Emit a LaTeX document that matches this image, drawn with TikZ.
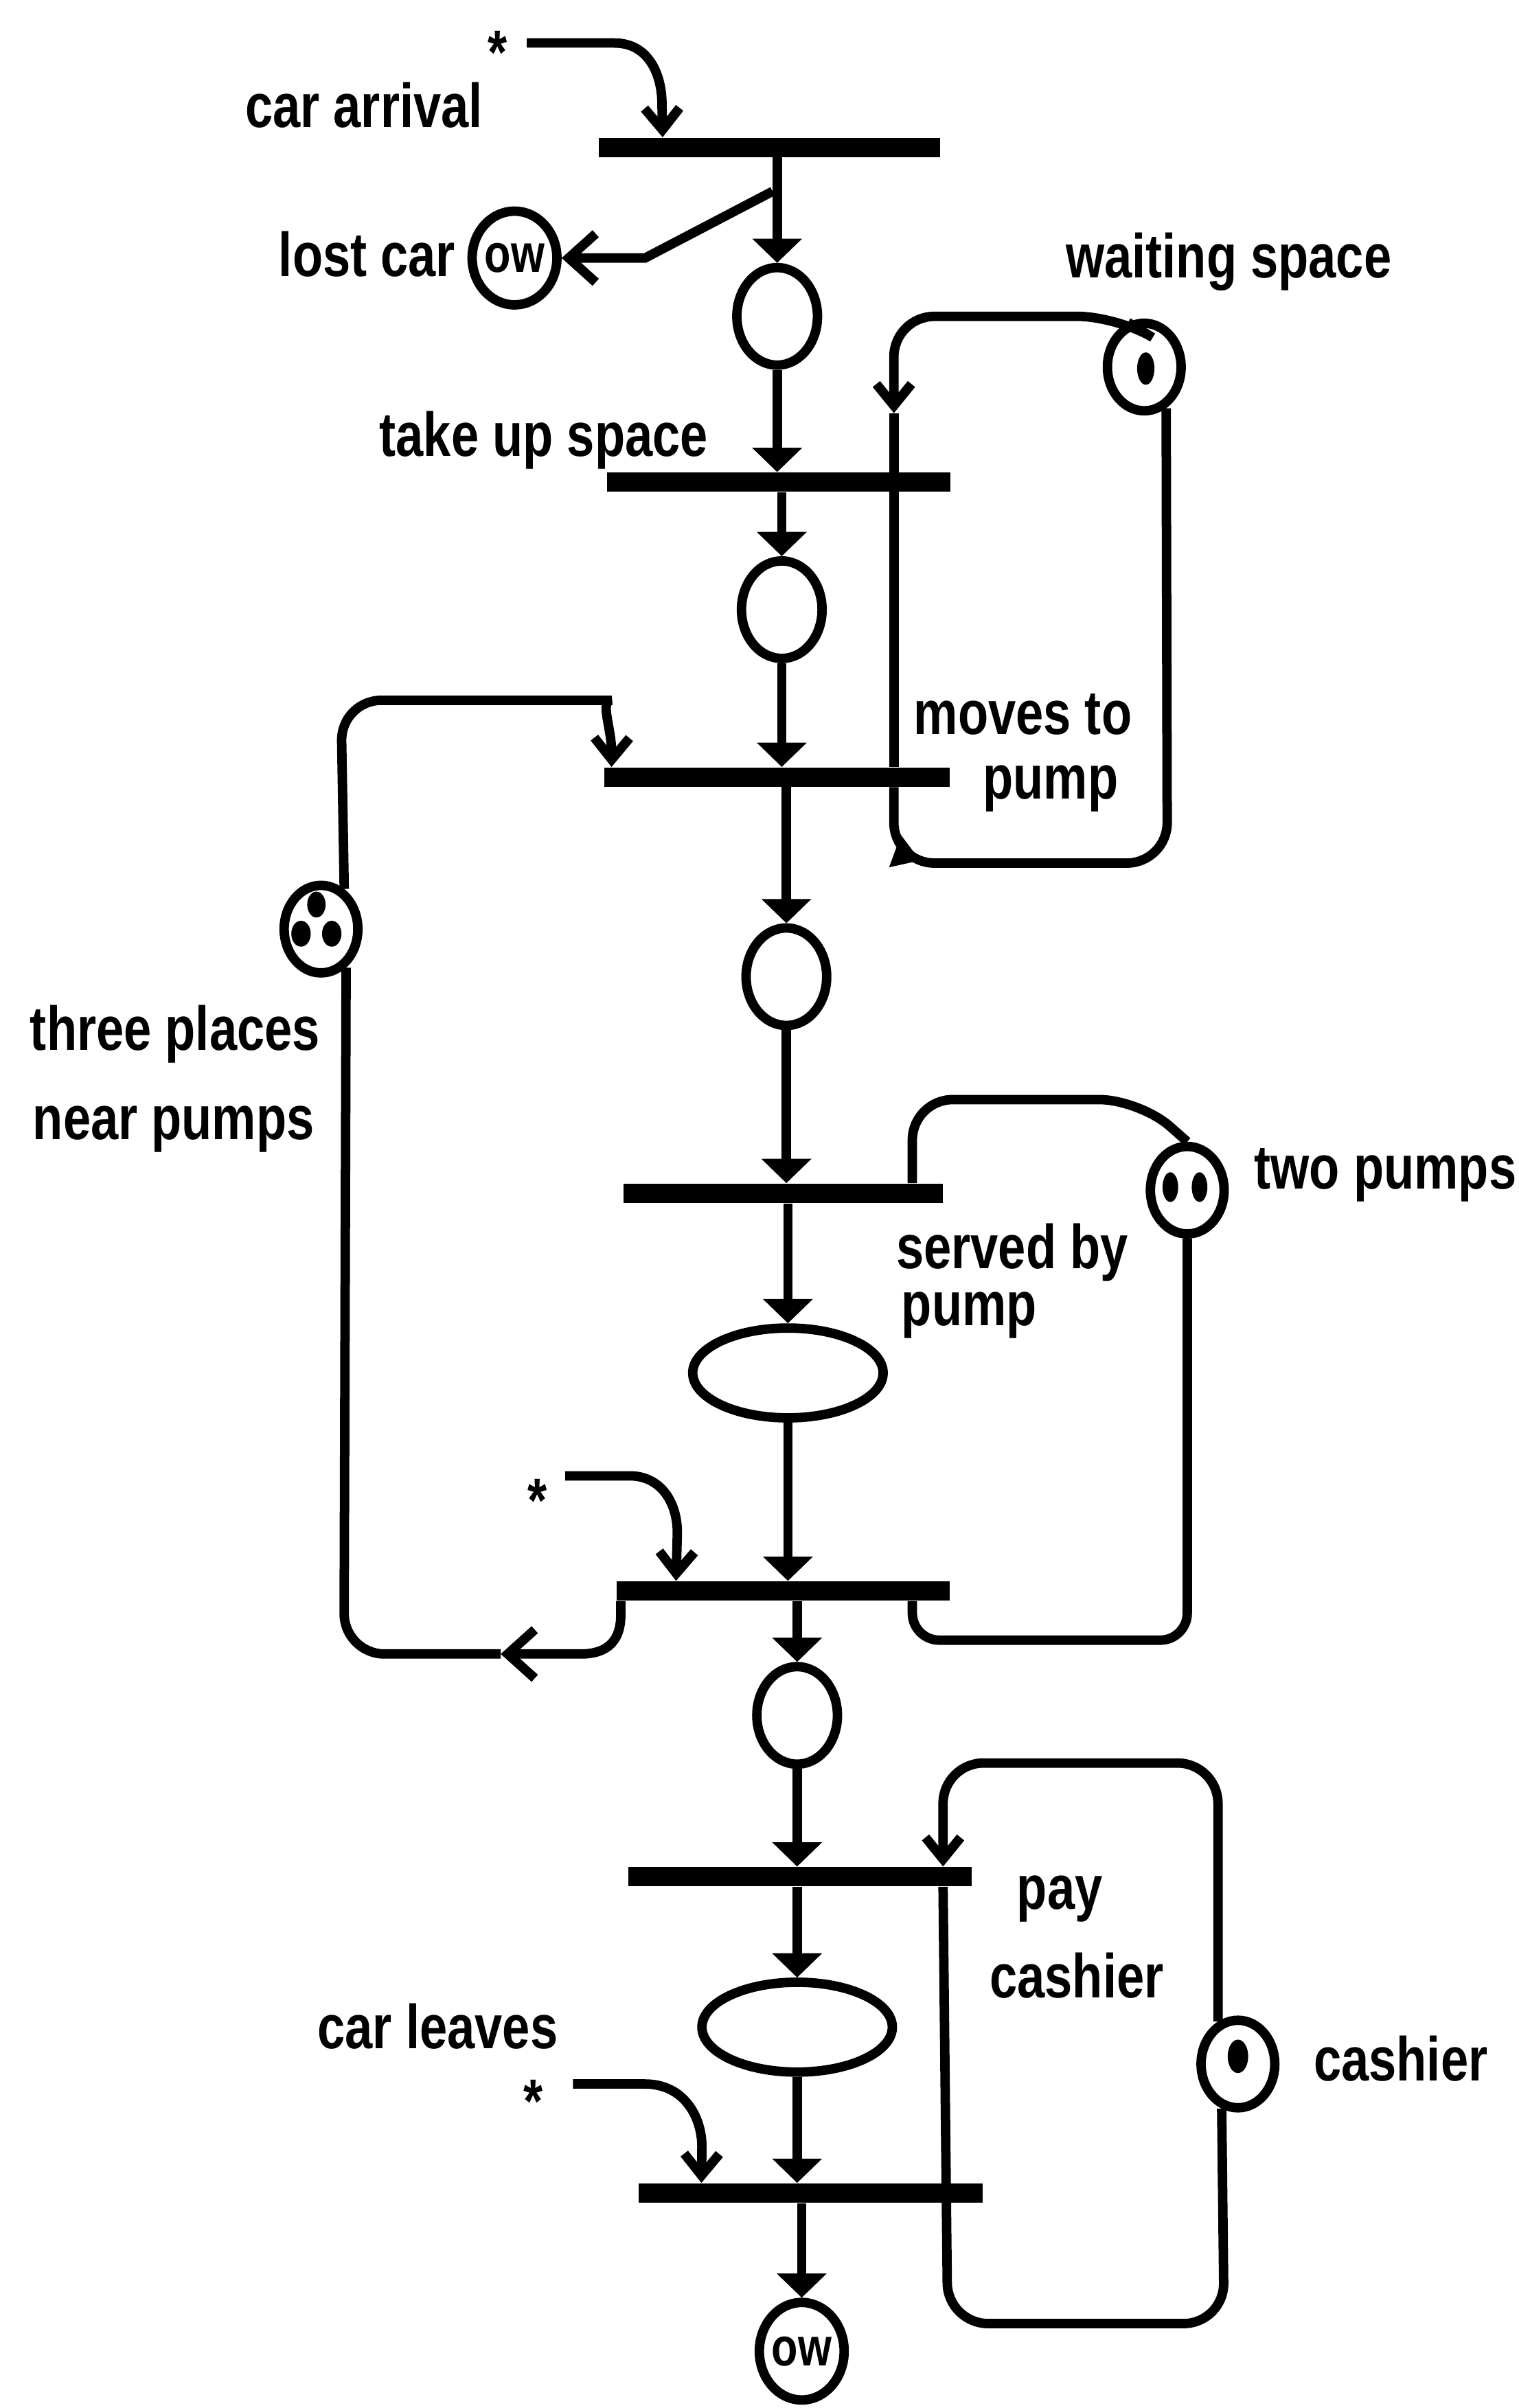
\documentclass[tikz,border=0pt]{standalone}
\usepackage{fontspec}
\setmainfont{Liberation Sans}[FakeStretch=0.8]
\usetikzlibrary{arrows.meta, shapes.geometric, calc, decorations.markings}

\newcommand{\netfont}{\fontsize{23}{27}\selectfont\bfseries}

\tikzset{
  wire/.style={line width=3.5pt},
  flow/.style={wire, -{Triangle[width=18pt,length=9pt]}},
  grab/.style={wire, -{Straight Barb[length=8pt,width=13pt]}},
  lose/.style={wire, -{Straight Barb[length=10pt,width=18pt]}},
  place/.style={ellipse, draw, line width=3.5pt, inner sep=0pt, minimum width=1.05cm, minimum height=1.27cm, font=\netfont},
  resource/.style={place, minimum width=0.96cm, minimum height=1.14cm},
  oval/.style={place, minimum width=2.48cm, minimum height=1.17cm},
  trans/.style={rectangle, fill, inner sep=0pt, minimum height=0.25cm, minimum width=4.47cm},
  lbl/.style={font=\netfont, inner sep=0pt, anchor=base},
  backmark/.style={postaction={decorate}, decoration={markings, mark=at position #1 with {\arrow{Triangle[width=12pt,length=10pt]}}}},
}

\begin{document}
\begin{tikzpicture}[x=0.02cm, y=-0.02cm]
  \useasboundingbox (0,0) rectangle (989,1568);
  % transitions
  \node[trans, minimum width=4.45cm] (T1) at (501,96) {};
  \node[trans] (T2) at (507,314) {};
  \node[trans, minimum width=4.50cm] (T3) at (506,506) {};
  \node[trans, minimum width=4.16cm] (T4) at (510,777) {};
  \node[trans, minimum width=4.34cm] (T5) at (510,1036) {};
  \node[trans] (T6) at (521,1222) {};
  \node[trans, minimum width=4.48cm] (T7) at (528,1428) {};
  % places on the main line
  \node[place] (P1) at (506,206) {};
  \node[place] (P2) at (509,397) {};
  \node[place] (P3) at (512,636) {};
  \node[oval] (P4) at (513,894) {};
  \node[place] (P5) at (519,1117) {};
  \node[oval] (P6) at (519,1320) {};
  \node[place, minimum width=0.96cm, minimum height=1.22cm, font=\fontsize{20}{22}\selectfont\bfseries] (ow1) at (335,168) {ow};
  \node[place, font=\fontsize{20}{22}\selectfont\bfseries] (ow2) at (522,1531) {ow};
  % resource places
  \node[resource] (W) at (745,239) {};
  \node[resource] (TP) at (209,605) {};
  \node[resource] (PU) at (773,775) {};
  \node[resource] (CA) at (806,1344) {};
  % tokens
  \fill ($(W)+(1,1)$) ellipse (3.2pt and 6pt);
  \fill ($(TP)+(-3,-16)$) ellipse (3.4pt and 4.8pt);
  \fill ($(TP)+(-13,3)$) ellipse (3.6pt and 4.8pt);
  \fill ($(TP)+(7,3)$) ellipse (3.6pt and 4.8pt);
  \fill ($(PU)+(-11,-2)$) ellipse (2.9pt and 5.5pt);
  \fill ($(PU)+(8,-2)$) ellipse (2.9pt and 5.5pt);
  \fill ($(CA)+(0,-5)$) ellipse (3.8pt and 6.2pt);
  % labels
  \node[lbl] (arrival) at (237,83) {car arrival};
  \node[lbl] (lost) at (239,180) {lost car};
  \node[lbl] (waiting) at (800,181) {waiting space};
  \node[lbl] (takeup) at (354,297) {take up space};
  \node[lbl] (moves) at (666,478) {moves to};
  \node[lbl] (movespump) at (684,520) {pump};
  \node[lbl] (served) at (659,826) {served by};
  \node[lbl] (servedpump) at (631,863) {pump};
  \node[lbl] (twopumps) at (902,774) {two pumps};
  \node[lbl] (three) at (114,684) {three places};
  \node[lbl] (near) at (113,742) {near pumps};
  \node[lbl] (pay) at (690,1243) {pay};
  \node[lbl] (paycashier) at (701,1301) {cashier};
  \node[lbl] (leaves) at (285,1334) {car leaves};
  \node[lbl] (cashier) at (912,1355) {cashier};
  \node[lbl] (star1) at (324,48) {*};
  \node[lbl] (star2) at (350,991) {*};
  \node[lbl] (star3) at (347,1382) {*};
  % helper coordinates
  \coordinate (split) at ($(T1.south -| P1.north)+(-3,22)$);
  \coordinate (wsx) at (582,0);
  \coordinate (wsA) at (582,269);
  \coordinate (pux) at (594,0);
  \coordinate (cax) at (614,0);
  \coordinate (tpB) at (326,1077);
  % main line
  \draw[flow] (T1.south -| P1.north) -- (P1.north);
  \draw[flow] (P1.south) -- (P1.south |- T2.north);
  \draw[flow] (T2.south -| P2.north) -- (P2.north);
  \draw[flow] (P2.south) -- (P2.south |- T3.north);
  \draw[flow] (T3.south -| P3.north) -- (P3.north);
  \draw[flow] (P3.south) -- (P3.south |- T4.north);
  \draw[flow] (T4.south -| P4.north) -- (P4.north);
  \draw[flow] (P4.south) -- (P4.south |- T5.north);
  \draw[flow] (T5.south -| P5.north) -- (P5.north);
  \draw[flow] (P5.south) -- (P5.south |- T6.north);
  \draw[flow] (T6.south -| P6.north) -- (P6.north);
  \draw[flow] (P6.south) -- (P6.south |- T7.north);
  \draw[flow] (T7.south -| ow2.north) -- (ow2.north);
  % lost car
  \draw[lose] (split) -- (420,168) -- (ow1.east);
  % sources
  \draw[grab] ($(star1.base)+(19,-20)$) -- (400,28) .. controls (422,28) and (431,48) .. (431,68) -- ($(T1.north west)+(42,0)$);
  \draw[grab] ($(star2.base)+(18,-30)$) -- (410,961) .. controls (430,961) and (441,978) .. (441,998) -- ($(T5.north west)+(39,0)$);
  \draw[grab] ($(star3.base)+(26,-25)$) -- (420,1357) .. controls (445,1357) and (457,1378) .. (457,1398) -- ($(T7.north west)+(41,0)$);
  % waiting space loop
  \draw[grab, rounded corners=15pt] (W.110) -- (728,206) -- (582,206) -- (wsA);
  \draw[wire] (wsA) -- (T3.north -| wsx);
  \draw[wire, rounded corners=15pt, backmark=0.11] (T3.south -| wsx) -- (582,562) -- (760,562) -- (W.-62);
  % three places loop
  \draw[grab, rounded corners=15pt] (TP.60) -- (222,456) -- (372,456) .. controls (390,456) and (398.5,474) .. ($(T3.north west)+(5,0)$);
  \draw[lose] ($(T5.south west)+(3,0)$) -- ++(0,8) .. controls (404.5,1068) and (396,1077) .. (378,1077) -- (tpB);
  \draw[wire, rounded corners=15pt] (tpB) -- (224,1077) -- (TP.-57);
  % two pumps loop
  \draw[wire, rounded corners=15pt] (T4.north -| pux) -- (594,716) -- (742,716) -- (PU.north);
  \draw[wire, rounded corners=10pt] (PU.south) -- (773,1068) -- (594,1068) -- (T5.south -| pux);
  % cashier loop
  \draw[grab, rounded corners=15pt] (CA.115) -- (793,1148) -- (614,1148) -- (T6.north -| cax);
  \draw[wire, rounded corners=15pt] (T6.south -| cax) -- (617,1513) -- (797,1513) -- (CA.-110);
\end{tikzpicture}
\end{document}
